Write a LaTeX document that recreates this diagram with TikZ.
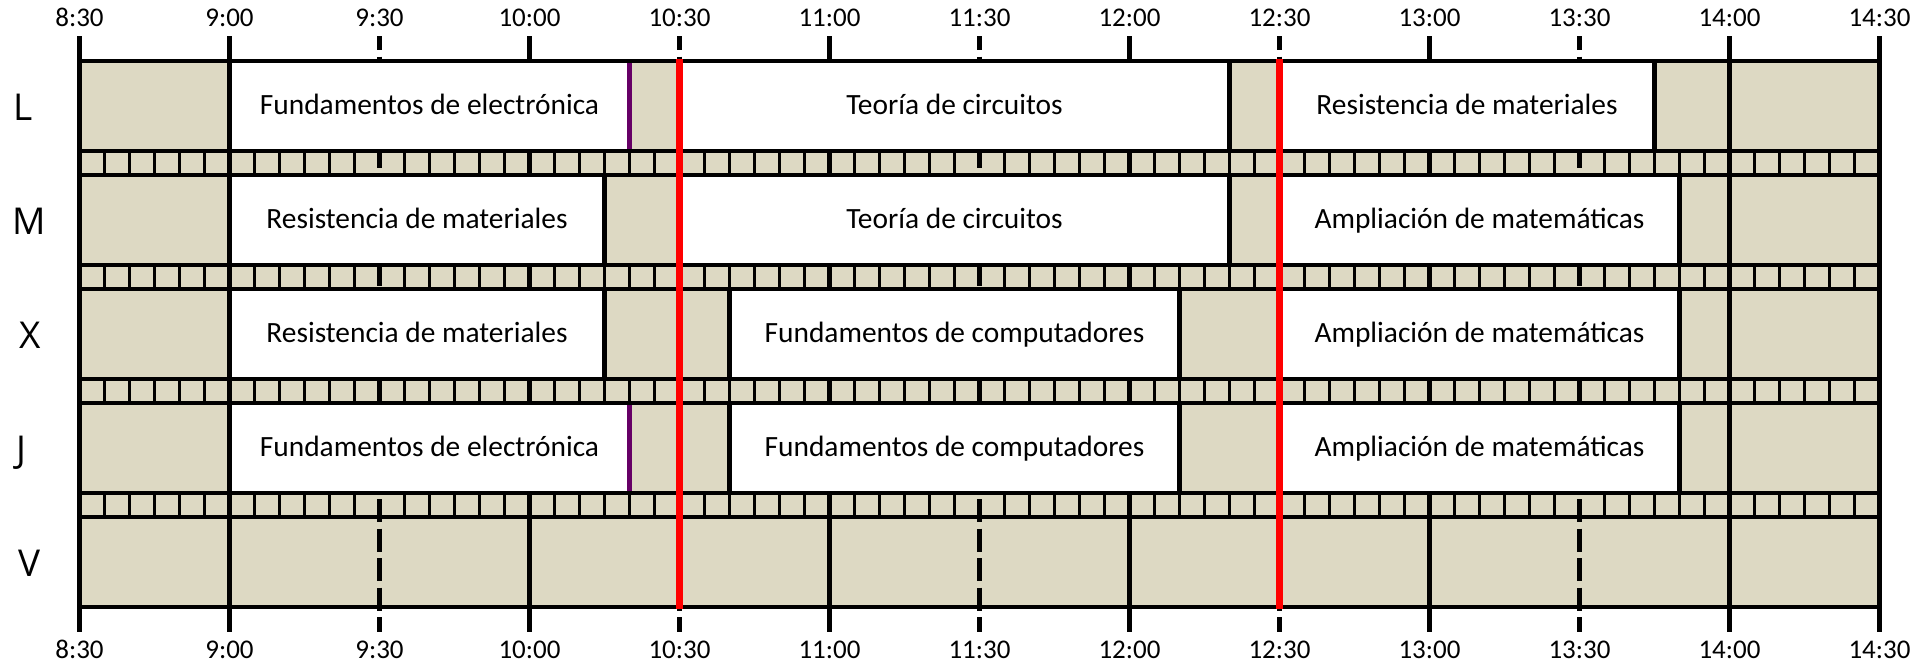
\documentclass[tikz,border=0pt]{standalone}
\usepackage{fontspec}
\setmainfont{Carlito}
\newfontfamily\diafont{Open Sans}
\definecolor{fondo}{HTML}{DDD9C3}
\definecolor{morado}{HTML}{660066}

\begin{document}
\begin{tikzpicture}[x=2.5pt, y=-0.5pt,
		linea/.style={line width=2.2pt},
		media/.style={line width=2.2pt, dash pattern=on 11.5pt off 3.25pt, dash phase=4.5pt},
		marca/.style={line width=1.7pt},
		clase/.style={draw, line width=2.2pt, fill=white, outer sep=0pt, inner sep=0pt,
			minimum height=45pt, text height=10.5pt, text depth=2.5pt,
			font=\fontsize{14.7}{16}\selectfont},
		hora/.style={anchor=base, font=\fontsize{13.5}{16}\selectfont},
		dia/.style={anchor=base, font=\diafont\fontsize{18.5}{20}\selectfont},
		recreo/.style={red, line width=3.5pt}]
		\useasboundingbox (-15.9,0) rectangle (368.9,664);
		\fill[fondo] (0,61) rectangle (360,607);

		% marcas de 5 minutos
		\foreach \k in {0,...,3}
			\foreach \h in {0,30,...,330}
				\foreach \m in {5,10,15,20,25}
					\draw[marca] (\h+\m,151+114*\k) -- ++(0,24);

		\foreach \i/\h in {0/8:30,1/9:00,2/9:30,3/10:00,4/10:30,5/11:00,6/11:30,
				7/12:00,8/12:30,9/13:00,10/13:30,11/14:00,12/14:30} {
			\node[hora] (arr\i) at (30*\i,26.7) {\h};
			\node[hora] (aba\i) at (30*\i,658) {\h};
			\coordinate (sup\i) at (30*\i,36);
			\coordinate (inf\i) at (30*\i,632);
		}
		\foreach \i in {0,1,3,5,7,9,11,12}
			\draw[linea] (sup\i) -- (inf\i);
		\foreach \i in {2,4,6,8,10}
			\draw[media] (sup\i) -- (inf\i);

		\foreach \k/\d/\x in {0/L/-11.3,1/M/-10.1,2/X/-9.9,3/J/-11.7,4/V/-9.9}
			\node[dia] (dia\d) at (\x,120+114*\k) {\d};

		\foreach \nm/\k/\ini/\fin/\txt in {
				l1/0/30/110/Fundamentos de electrónica,
				l2/0/120/230/Teoría de circuitos,
				l3/0/240/315/Resistencia de materiales,
				m1/1/30/105/Resistencia de materiales,
				m2/1/120/230/Teoría de circuitos,
				m3/1/240/320/Ampliación de matemáticas,
				x1/2/30/105/Resistencia de materiales,
				x2/2/130/220/Fundamentos de computadores,
				x3/2/240/320/Ampliación de matemáticas,
				j1/3/30/110/Fundamentos de electrónica,
				j2/3/130/220/Fundamentos de computadores,
				j3/3/240/320/Ampliación de matemáticas}
			\node[clase, minimum width={(\fin-\ini)*2.5pt}] (\nm)
				at ({(\ini+\fin)/2},106+114*\k) {\txt};

		\foreach \nm in {l1,j1}
			\draw[morado, line width=2.3pt] (\nm.north east) -- (\nm.south east);

		\foreach \y in {61,151,175,265,289,379,403,493,517,607}
			\draw[linea] (0,\y) -- (360,\y);

		\coordinate (ra) at (120,59);
		\coordinate (rb) at (120,609);
		\coordinate (rc) at (240,59);
		\coordinate (rd) at (240,609);
		\draw[recreo] (ra) -- (rb);
		\draw[recreo] (rc) -- (rd);
\end{tikzpicture}
\end{document}
